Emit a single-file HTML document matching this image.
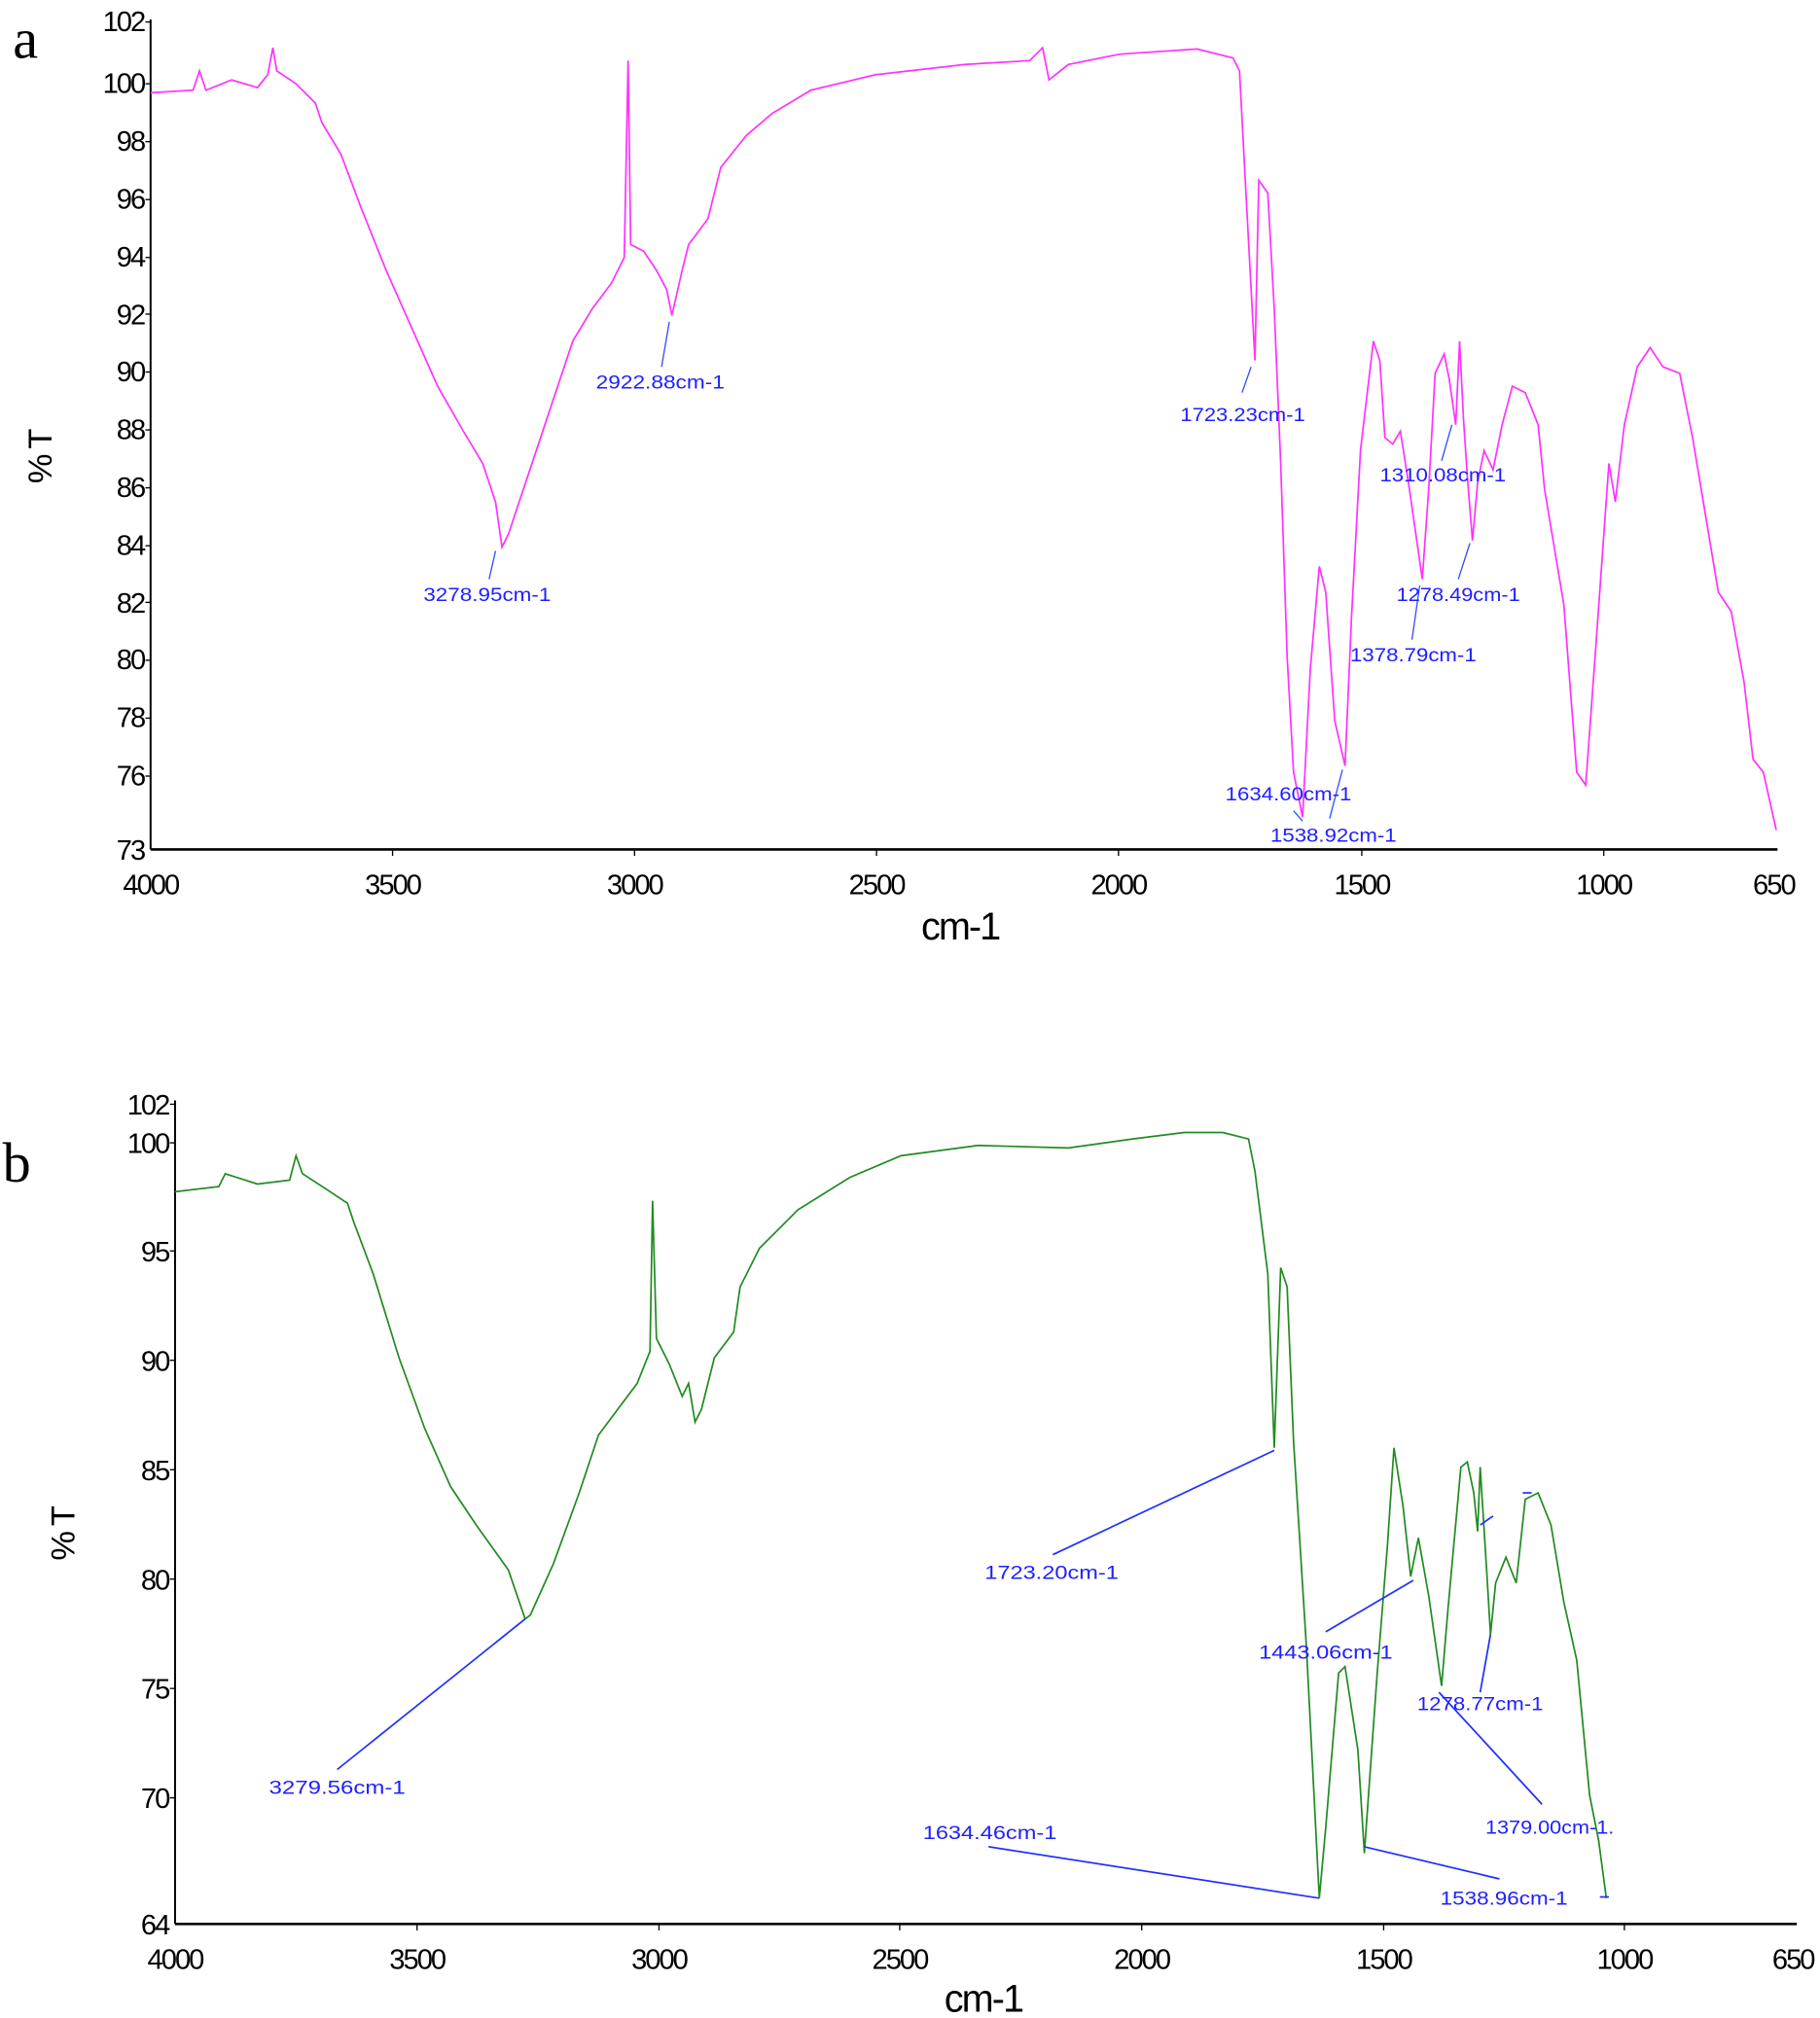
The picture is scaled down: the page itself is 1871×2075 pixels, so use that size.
<!DOCTYPE html>
<html><head><meta charset="utf-8"><style>
html,body{margin:0;padding:0;background:#fff}
svg{display:block}
text{font-family:"Liberation Sans",sans-serif}
.t{font-size:22px;fill:#000;letter-spacing:-1.5px}
.lb{font-size:15px;fill:#2020ff}
</style></head><body>
<svg width="1871" height="2075" viewBox="0 0 1414 1568" xmlns="http://www.w3.org/2000/svg">
<rect width="1414" height="1568" fill="#fff"/>
<!-- Panel a -->
<text x="10" y="45" style="font-family:'Liberation Serif',serif;font-size:44px">a</text>
<line x1="117" y1="15" x2="117" y2="660" stroke="#000" stroke-width="1.5"/>
<line x1="117" y1="660" x2="1381" y2="660" stroke="#000" stroke-width="2"/>
<g class="t" text-anchor="end">
<text x="112" y="24">102</text><text x="112" y="72">100</text><text x="112" y="117">98</text><text x="112" y="162">96</text><text x="112" y="207">94</text><text x="112" y="252">92</text><text x="112" y="296">90</text><text x="112" y="341">88</text><text x="112" y="386">86</text><text x="112" y="431">84</text><text x="112" y="476">82</text><text x="112" y="520">80</text><text x="112" y="565">78</text><text x="112" y="610">76</text><text x="112" y="668">73</text>
</g>
<g stroke="#000"><line x1="113" y1="17" x2="117" y2="17"/><line x1="113" y1="65" x2="117" y2="65"/><line x1="113" y1="110" x2="117" y2="110"/><line x1="113" y1="155" x2="117" y2="155"/><line x1="113" y1="200" x2="117" y2="200"/><line x1="113" y1="244" x2="117" y2="244"/><line x1="113" y1="289" x2="117" y2="289"/><line x1="113" y1="334" x2="117" y2="334"/><line x1="113" y1="379" x2="117" y2="379"/><line x1="113" y1="424" x2="117" y2="424"/><line x1="113" y1="468" x2="117" y2="468"/><line x1="113" y1="513" x2="117" y2="513"/><line x1="113" y1="558" x2="117" y2="558"/><line x1="113" y1="603" x2="117" y2="603"/>
<line x1="305" y1="660" x2="305" y2="665"/><line x1="493" y1="660" x2="493" y2="665"/><line x1="681" y1="660" x2="681" y2="665"/><line x1="869" y1="660" x2="869" y2="665"/><line x1="1058" y1="660" x2="1058" y2="665"/><line x1="1246" y1="660" x2="1246" y2="665"/></g>
<g class="t" text-anchor="middle">
<text x="117" y="695">4000</text><text x="305" y="695">3500</text><text x="493" y="695">3000</text><text x="681" y="695">2500</text><text x="869" y="695">2000</text><text x="1058" y="695">1500</text><text x="1246" y="695">1000</text><text x="1378" y="695">650</text>
<text x="746" y="730" style="font-size:30px">cm-1</text>
</g>
<text transform="translate(40,355) rotate(-90)" class="t" text-anchor="middle" style="font-size:26px">% T</text>
<polyline fill="none" stroke="#ff33ff" stroke-width="1.3" points="117,72 150,70 155,55 160,70 180,62 200,68 208,58 212,37 215,55 230,65 245,80 250,95 265,120 280,160 300,210 320,255 340,300 360,335 375,360 385,390 390,425 395,415 410,370 430,310 445,265 460,240 475,220 485,200 488,47 490,190 500,195 510,210 518,225 522,245 530,210 535,190 550,170 560,130 580,105 600,88 630,70 680,58 750,50 800,47 810,37 815,62 830,50 870,42 930,38 958,45 963,55 968,150 975,280 978,140 985,150 990,240 995,360 1000,510 1005,600 1012,635 1018,520 1025,440 1030,460 1037,560 1045,595 1050,480 1057,350 1067,265 1072,280 1076,340 1082,345 1088,335 1095,380 1105,450 1110,380 1115,290 1122,275 1126,295 1131,330 1134,265 1137,325 1140,370 1144,420 1148,375 1153,350 1160,365 1167,330 1175,300 1185,305 1195,330 1200,380 1205,410 1215,470 1225,600 1232,610 1240,500 1250,360 1255,390 1262,330 1272,285 1282,270 1292,285 1305,290 1315,340 1325,400 1335,460 1345,475 1355,530 1362,590 1370,600 1380,645"/>
<g stroke="#3050ff" stroke-width="1"><line x1="385" y1="428" x2="380" y2="450"/><line x1="520" y1="250" x2="514" y2="285"/><line x1="972" y1="285" x2="965" y2="305"/><line x1="1128" y1="330" x2="1120" y2="358"/><line x1="1142" y1="422" x2="1133" y2="450"/><line x1="1103" y1="455" x2="1097" y2="497"/><line x1="1043" y1="598" x2="1033" y2="636"/><line x1="1005" y1="630" x2="1012" y2="638"/></g>
<g class="lb">
<text x="329" y="467" textLength="99" lengthAdjust="spacingAndGlyphs">3278.95cm-1</text><text x="463" y="302" textLength="100" lengthAdjust="spacingAndGlyphs">2922.88cm-1</text><text x="917" y="327" textLength="97" lengthAdjust="spacingAndGlyphs">1723.23cm-1</text><text x="1072" y="374" textLength="98" lengthAdjust="spacingAndGlyphs">1310.08cm-1</text><text x="1085" y="467" textLength="96" lengthAdjust="spacingAndGlyphs">1278.49cm-1</text><text x="1049" y="514" textLength="98" lengthAdjust="spacingAndGlyphs">1378.79cm-1</text><text x="952" y="622" textLength="98" lengthAdjust="spacingAndGlyphs">1634.60cm-1</text><text x="987" y="654" textLength="98" lengthAdjust="spacingAndGlyphs">1538.92cm-1</text>
</g>
<!-- Panel b -->
<text x="2" y="918" style="font-family:'Liberation Serif',serif;font-size:44px">b</text>
<line x1="136" y1="855" x2="136" y2="1495" stroke="#000" stroke-width="1.5"/>
<line x1="136" y1="1495" x2="1396" y2="1495" stroke="#000" stroke-width="2"/>
<g class="t" text-anchor="end">
<text x="131" y="866">102</text><text x="131" y="896">100</text><text x="131" y="980">95</text><text x="131" y="1065">90</text><text x="131" y="1150">85</text><text x="131" y="1235">80</text><text x="131" y="1320">75</text><text x="131" y="1405">70</text><text x="131" y="1503">64</text>
</g>
<g stroke="#000"><line x1="132" y1="858" x2="136" y2="858"/><line x1="132" y1="888" x2="136" y2="888"/><line x1="132" y1="972" x2="136" y2="972"/><line x1="132" y1="1057" x2="136" y2="1057"/><line x1="132" y1="1142" x2="136" y2="1142"/><line x1="132" y1="1227" x2="136" y2="1227"/><line x1="132" y1="1312" x2="136" y2="1312"/><line x1="132" y1="1397" x2="136" y2="1397"/>
<line x1="324" y1="1495" x2="324" y2="1500"/><line x1="512" y1="1495" x2="512" y2="1500"/><line x1="699" y1="1495" x2="699" y2="1500"/><line x1="887" y1="1495" x2="887" y2="1500"/><line x1="1075" y1="1495" x2="1075" y2="1500"/><line x1="1262" y1="1495" x2="1262" y2="1500"/></g>
<g class="t" text-anchor="middle">
<text x="136" y="1530">4000</text><text x="324" y="1530">3500</text><text x="512" y="1530">3000</text><text x="699" y="1530">2500</text><text x="887" y="1530">2000</text><text x="1075" y="1530">1500</text><text x="1262" y="1530">1000</text><text x="1393" y="1530">650</text>
<text x="764" y="1563" style="font-size:30px">cm-1</text>
</g>
<text transform="translate(58,1192) rotate(-90)" class="t" text-anchor="middle" style="font-size:26px">% T</text>
<polyline fill="none" stroke="#228b22" stroke-width="1.3" points="136,926 170,922 175,912 200,920 225,917 230,898 235,912 255,925 270,935 275,950 290,990 310,1055 330,1110 350,1155 370,1185 395,1220 408,1258 412,1255 430,1215 450,1160 465,1115 480,1095 495,1075 505,1050 507,933 510,1040 520,1060 530,1085 535,1075 540,1105 545,1095 555,1055 570,1035 575,1000 590,970 620,940 660,915 700,898 760,890 830,892 880,885 920,880 950,880 970,885 975,910 985,990 990,1125 995,985 1000,1000 1005,1120 1015,1280 1025,1475 1030,1420 1040,1300 1045,1295 1055,1360 1060,1440 1070,1300 1078,1200 1083,1125 1090,1170 1096,1225 1102,1195 1110,1240 1120,1310 1125,1250 1135,1140 1140,1136 1145,1160 1148,1190 1150,1140 1155,1220 1158,1270 1162,1230 1170,1210 1178,1230 1185,1165 1195,1160 1205,1185 1215,1245 1225,1290 1235,1395 1242,1430 1248,1475"/>
<g stroke="#2030ff" stroke-width="1.3"><line x1="408" y1="1258" x2="262" y2="1375"/><line x1="990" y1="1127" x2="818" y2="1208"/><line x1="1098" y1="1228" x2="1030" y2="1268"/><line x1="1158" y1="1270" x2="1150" y2="1315"/><line x1="1150" y1="1185" x2="1160" y2="1178"/><line x1="1118" y1="1315" x2="1198" y2="1402"/><line x1="1025" y1="1475" x2="768" y2="1435"/><line x1="1060" y1="1435" x2="1165" y2="1460"/><line x1="1183" y1="1160" x2="1190" y2="1160"/><line x1="1243" y1="1474" x2="1250" y2="1474"/></g>
<g class="lb">
<text x="209" y="1394" textLength="106" lengthAdjust="spacingAndGlyphs">3279.56cm-1</text><text x="765" y="1227" textLength="104" lengthAdjust="spacingAndGlyphs">1723.20cm-1</text><text x="978" y="1289" textLength="104" lengthAdjust="spacingAndGlyphs">1443.06cm-1</text><text x="1101" y="1329" textLength="98" lengthAdjust="spacingAndGlyphs">1278.77cm-1</text><text x="1154" y="1425" textLength="100" lengthAdjust="spacingAndGlyphs">1379.00cm-1.</text><text x="717" y="1429" textLength="104" lengthAdjust="spacingAndGlyphs">1634.46cm-1</text><text x="1119" y="1480" textLength="99" lengthAdjust="spacingAndGlyphs">1538.96cm-1</text>
</g>
</svg>
</body></html>
